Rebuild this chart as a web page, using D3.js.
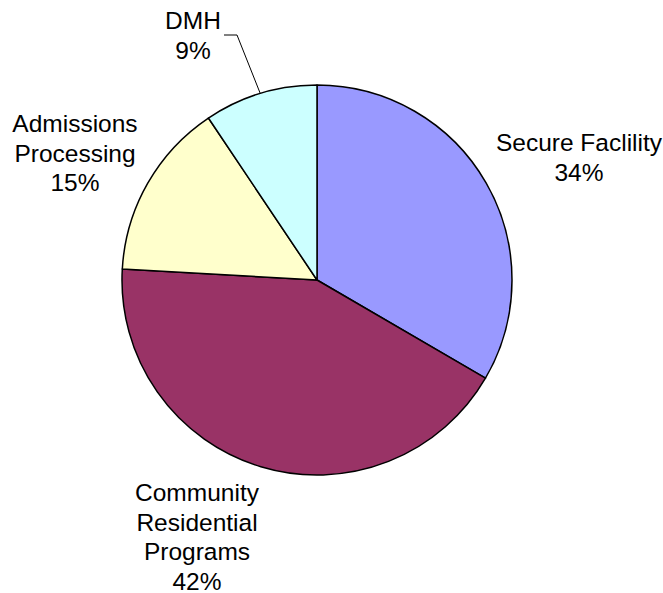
<!DOCTYPE html>
<html>
<head>
<meta charset="utf-8">
<script src="https://cdn.jsdelivr.net/npm/d3@7/dist/d3.min.js"></script>
<style>
  html, body { margin: 0; padding: 0; background: #fff; }
  svg text { font-family: "Liberation Sans", Arial, Helvetica, sans-serif; fill: #000; }
</style>
</head>
<body>
<svg id="chart" width="663" height="593"></svg>
<script>
// Budget share by program area
const categories = ["Secure Faclility", "Community Residential Programs", "Admissions Processing", "DMH"];
const values = [33.4, 42.5, 14.7, 9.4];
const percentLabels = ["34%", "42%", "15%", "9%"];
const colors = ["#9999FF", "#993366", "#FFFFCC", "#CCFFFF"];

const svg = d3.select("#chart");
const cx = 317, cy = 280, radius = 195;

const pie = d3.pie().sort(null).value(d => d)(values);
const arc = d3.arc().innerRadius(0).outerRadius(radius);

const g = svg.append("g").attr("transform", `translate(${cx},${cy})`);

g.selectAll("path.slice")
  .data(pie)
  .join("path")
  .attr("class", "slice")
  .attr("d", arc)
  .attr("fill", (d, i) => colors[i])
  .attr("stroke", "#000")
  .attr("stroke-width", 1.5)
  .attr("stroke-linejoin", "round");

// Label blocks: wrapped category name lines followed by the percentage
const labelLines = [
  ["Secure Faclility"],
  ["Community", "Residential", "Programs"],
  ["Admissions", "Processing"],
  ["DMH"]
];
const labelAnchors = [
  { x: 579, y: 151 },
  { x: 197, y: 501 },
  { x: 75, y: 132 },
  { x: 193, y: 29 }
];
const lineHeight = 29.5;

labelLines.forEach((lines, i) => {
  const t = svg.append("text")
    .attr("text-anchor", "middle")
    .attr("font-size", 24.5);
  lines.concat([percentLabels[i]]).forEach((s, k) => {
    t.append("tspan")
      .attr("x", labelAnchors[i].x)
      .attr("y", labelAnchors[i].y + k * lineHeight)
      .text(s);
  });
});

// Leader line for the small DMH slice, ending on the slice's outer edge
const dmh = pie[3];
const edgeAngle = (dmh.startAngle + dmh.endAngle) / 2;
const ex = cx + radius * Math.sin(edgeAngle);
const ey = cy - radius * Math.cos(edgeAngle);
svg.append("polyline")
  .attr("points", `224,35 237,35 ${ex},${ey}`)
  .attr("fill", "none")
  .attr("stroke", "#000")
  .attr("stroke-width", 1);
</script>
</body>
</html>
